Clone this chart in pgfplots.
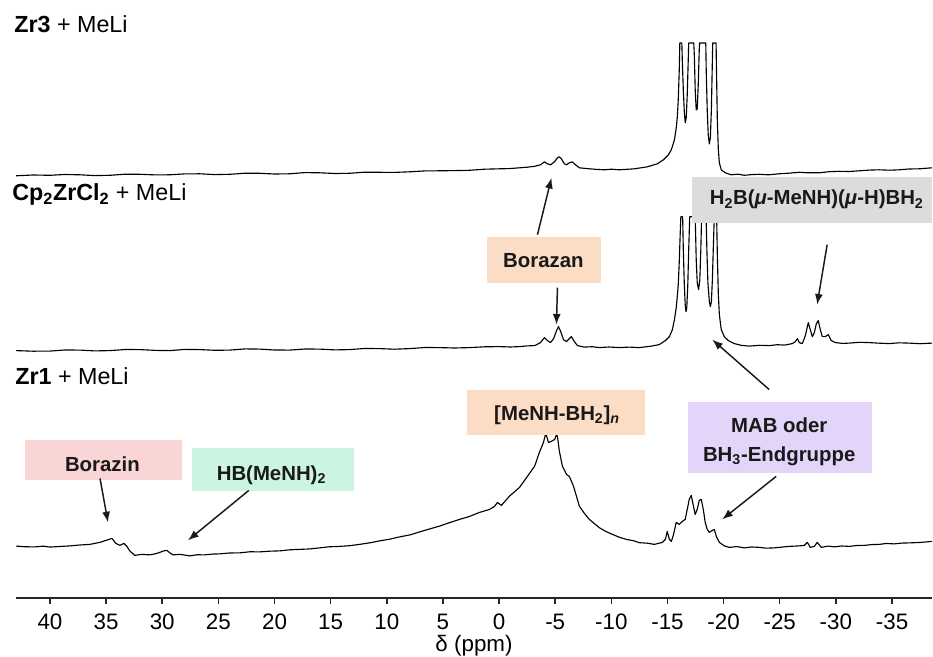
\documentclass[border=0pt]{standalone}
\usepackage{fontspec}
\setmainfont{Liberation Sans}
\usepackage{pgfplots}
\pgfplotsset{compat=1.18}
\usetikzlibrary{arrows.meta}
\definecolor{peach}{HTML}{FBDCC5}
\definecolor{gbox}{HTML}{DCDCDC}
\definecolor{lav}{HTML}{E3D5FA}
\definecolor{pinkb}{HTML}{F9D5D5}
\definecolor{mint}{HTML}{CBF5E0}
\begin{document}
\begin{tikzpicture}
\begin{axis}[
  scale only axis, width=687.75pt, height=449.25pt,
  x dir=reverse, xmin=-38.56, xmax=43.02, ymin=0, ymax=599,
  axis x line*=bottom, axis y line=none,
  axis line style={-, line width=1.5pt, black!85},
  xtick={40,35,30,25,20,15,10,5,0,-5,-10,-15,-20,-25,-30,-35},
  xticklabels={40,35,30,25,20,15,10,5,0,-5,-10,-15,-20,-25,-30,-35},
  tick align=outside, major tick length=4.5pt,
  xtick style={line width=1.1pt, black!85},
  xticklabel style={font=\fontsize{16.8}{18}\selectfont, anchor=base, yshift=-18.75pt, inner sep=0pt},
  xlabel={δ (ppm)},
  xlabel style={font=\fontsize{16.8}{18}\selectfont, at={(axis description cs:0.5,0)}, anchor=base, yshift=-39.75pt, inner sep=0pt},
  clip=false,
]
% Zr3 + MeLi
\addplot[black, line width=0.85pt, line join=round] coordinates {
(43.02,423) (41.5,423.8) (40.0,423.5) (38.7,424.3) (37.32,424) (36.0,423.2) (34.65,423.5) (33.3,424.6) (31.98,424.5) (30.6,423.9) (29.32,424) (28.0,424.9) (26.65,425) (25.3,424.2) (23.98,424.5) (22.6,425.6) (21.31,425.5) (20.0,424.8) (18.65,425) (17.3,426.2) (15.98,426) (14.6,425.3) (13.31,425.5) (12.0,426.6) (10.64,426.5) (9.3,426.4) (7.97,427) (6.6,427.9) (5.30,428) (4.0,428.2) (2.63,428.5) (1.3,429.6) (-0.04,430) (-0.9,430.2) (-1.82,431) (-2.5,431.6) (-3.16,432.5) (-3.69,434) (-4.04,437) (-4.31,435) (-4.58,434) (-4.94,437) (-5.20,441) (-5.37,442) (-5.55,440) (-5.82,435) (-6.00,434) (-6.26,436) (-6.53,437) (-6.81,434) (-7.15,431) (-8.04,430) (-8.7,429.4) (-9.39,429) (-10.0,429.6) (-10.71,429) (-11.4,429.5) (-12.05,430) (-13.21,432) (-14.09,435) (-14.64,439) (-15.08,444) (-15.34,449) (-15.62,459) (-15.78,471) (-15.87,481) (-15.96,499) (-16.05,529) (-16.10,556) (-16.28,556) (-16.32,539) (-16.41,509) (-16.50,487) (-16.58,476) (-16.67,481) (-16.76,504) (-16.85,539) (-16.89,556) (-17.34,556) (-17.39,544) (-17.47,509) (-17.56,489) (-17.65,490) (-17.74,514) (-17.83,549) (-17.86,556) (-18.41,556) (-18.45,529) (-18.54,489) (-18.63,464) (-18.73,455) (-18.82,461) (-18.91,489) (-19.00,539) (-19.03,556) (-19.33,556) (-19.35,539) (-19.44,479) (-19.53,449) (-19.62,436) (-19.79,429) (-20.15,426) (-20.68,424) (-21.3,424.6) (-21.84,423.5) (-22.5,424.2) (-23.17,424.5) (-24.0,424) (-24.95,425) (-25.8,425.6) (-26.73,426.5) (-27.6,426) (-28.51,426) (-29.4,427.1) (-30.29,427.5) (-31.2,427.3) (-32.08,428) (-33.0,428.7) (-33.86,429) (-34.8,428.6) (-35.64,429) (-36.5,429.8) (-37.42,430) (-38.56,431)
};
% Cp2ZrCl2 + MeLi
\addplot[black, line width=0.85pt, line join=round] coordinates {
(43.02,248) (41.5,247.4) (40.0,247.5) (38.7,248.6) (37.32,248.5) (36.0,247.7) (34.65,248) (33.3,249.1) (31.98,249) (30.6,248.2) (29.32,248) (28.0,249.2) (26.65,249) (25.3,248.3) (23.98,248.5) (22.6,249.7) (21.31,249.5) (20.0,248.6) (18.65,248.5) (17.3,249.6) (15.98,249.5) (14.6,248.7) (13.31,249) (12.0,250.1) (10.64,250) (9.3,249.4) (7.97,250) (6.6,251.1) (5.30,251) (4.0,250.6) (2.63,251) (1.3,251.8) (-0.04,252) (-1.0,251.6) (-1.82,252) (-2.5,252.7) (-3.17,253) (-3.69,256) (-4.04,261) (-4.31,258) (-4.58,256) (-4.86,260) (-5.12,268) (-5.29,272) (-5.46,268) (-5.74,259) (-6.00,257) (-6.26,260) (-6.44,262) (-6.71,257) (-6.98,253) (-7.60,251.5) (-8.3,251.9) (-8.93,251) (-9.8,251.6) (-10.71,251) (-11.6,251.5) (-12.49,251) (-13.57,252.5) (-14.27,254) (-14.81,258) (-15.17,262) (-15.44,269) (-15.62,279) (-15.78,291) (-15.87,302) (-15.96,314) (-16.05,337) (-16.14,367) (-16.19,382) (-16.35,382) (-16.41,349) (-16.50,314) (-16.58,294) (-16.65,287) (-16.72,291) (-16.81,314) (-16.89,349) (-16.98,382) (-17.47,382) (-17.56,339) (-17.65,316) (-17.77,309) (-17.88,319) (-17.97,349) (-18.04,382) (-18.44,382) (-18.51,349) (-18.60,316) (-18.73,297) (-18.82,292) (-18.91,297) (-19.00,319) (-19.09,354) (-19.17,382) (-19.38,382) (-19.44,344) (-19.53,304) (-19.62,284) (-19.79,269) (-20.06,262) (-20.42,258) (-20.96,255) (-21.6,253.2) (-22.30,252.5) (-23.2,253.3) (-24.08,253) (-24.8,253.9) (-25.41,253.5) (-26.12,255) (-26.39,257) (-26.57,260) (-26.74,256) (-27.01,255) (-27.28,263) (-27.54,276) (-27.72,269) (-27.90,262) (-28.08,266) (-28.26,275) (-28.43,278) (-28.61,269) (-28.79,262) (-29.06,262) (-29.32,264) (-29.59,258) (-29.95,256) (-30.6,255.2) (-31.19,255.5) (-32.1,256.3) (-32.97,256) (-33.9,255.4) (-34.75,255) (-35.6,255.8) (-36.53,255.5) (-37.5,254.9) (-38.56,255.5)
};
% Zr1 + MeLi
\addplot[black, line width=0.85pt, line join=round] coordinates {
(43.02,52.3) (42.2,51.6) (41.31,51.5) (40.6,52.2) (40.00,51.3) (39.1,51.9) (38.22,52.5) (37.3,53.4) (36.44,54) (35.55,56) (34.93,58.3) (34.48,60) (34.13,55) (33.77,53) (33.41,55) (33.15,52) (32.88,47.3) (32.44,43) (31.81,44) (31.10,43.5) (30.6,44.6) (30.21,46) (29.86,47.5) (29.59,48) (29.32,45.5) (29.06,43.5) (28.43,44) (27.9,43.1) (27.54,42.5) (26.9,43.6) (26.21,43.5) (25.5,44.3) (24.88,44.5) (24.0,45.4) (23.10,45.5) (22.2,46.6) (21.31,46.5) (20.4,47.2) (19.54,47.5) (18.6,48.6) (17.76,49) (16.9,49.4) (15.98,50.5) (15.1,51.6) (14.20,52) (13.3,52.7) (12.42,54) (11.5,55.6) (10.64,57.5) (9.7,59.3) (8.86,61.5) (7.9,63.6) (7.08,66.5) (6.2,69.4) (5.30,72.3) (4.4,75.8) (3.52,79) (2.63,82) (1.74,86) (0.85,89) (0.41,92) (0.14,96) (-0.21,93) (-0.93,102.3) (-1.82,111) (-2.54,122.3) (-3.17,132.3) (-3.59,146) (-3.95,156) (-4.13,164) (-4.22,163) (-4.40,156) (-4.68,157.3) (-4.95,159) (-5.12,164) (-5.20,162) (-5.37,147.3) (-5.64,132.3) (-6.01,124) (-6.26,122) (-6.63,112.3) (-7.15,92.3) (-7.6,85) (-8.04,79) (-8.93,70.7) (-9.5,67) (-10.10,64) (-10.7,61.2) (-11.34,59) (-12.0,57.6) (-12.49,55.7) (-13.2,55.2) (-13.83,54) (-14.55,56) (-14.81,59) (-14.98,67) (-15.17,59) (-15.34,57) (-15.52,63) (-15.78,76) (-16.05,74) (-16.32,77) (-16.58,79) (-16.76,89) (-16.94,99) (-17.12,103) (-17.30,93) (-17.47,84) (-17.65,89) (-17.83,98) (-18.01,99) (-18.19,89) (-18.36,76) (-18.54,69) (-18.73,66) (-19.00,68) (-19.17,69) (-19.35,62) (-19.62,56) (-20.06,52.5) (-20.51,51) (-21.2,51.8) (-21.84,50.5) (-22.5,51.4) (-23.17,51) (-23.8,50.2) (-24.51,50.5) (-25.2,51.3) (-25.84,52) (-26.74,52.5) (-27.19,53) (-27.46,56) (-27.72,51) (-28.08,52) (-28.34,56) (-28.70,51) (-29.3,52.3) (-29.86,51.5) (-30.5,52.4) (-31.19,52) (-31.9,52.9) (-32.53,53) (-33.2,53.8) (-33.86,54) (-34.5,54.9) (-35.19,54.5) (-35.9,55.3) (-36.53,55.5) (-37.5,55.9) (-38.56,57)
};
% bounding area
\path (axis cs:44.45,599) rectangle (axis cs:-38.56,-58);
% sample labels
\node[anchor=base west, inner sep=0pt, font=\fontsize{17.5}{20}\selectfont] at (axis cs:43.2,566.7) {\textbf{Zr3} + MeLi};
\node[anchor=base west, inner sep=0pt, font=\fontsize{17.5}{20}\selectfont] at (axis cs:43.38,398) {\textbf{Cp\textsubscript{2}ZrCl\textsubscript{2}} + MeLi};
\node[anchor=base west, inner sep=0pt, font=\fontsize{17.5}{20}\selectfont] at (axis cs:43.11,214) {\textbf{Zr1} + MeLi};
% boxes
\fill[peach] (axis cs:1.03,362) rectangle (axis cs:-9.11,316);
\fill[gbox] (axis cs:-17.22,422) rectangle (axis cs:-38.56,376);
\fill[peach] (axis cs:2.90,209) rectangle (axis cs:-13.03,164);
\fill[lav] (axis cs:-16.86,197) rectangle (axis cs:-33.23,125);
\fill[pinkb] (axis cs:42.22,158) rectangle (axis cs:28.25,118);
\fill[mint] (axis cs:27.36,150) rectangle (axis cs:12.95,107);
\tikzset{lbl/.style={anchor=base, inner sep=0pt, font=\fontsize{15.3}{18}\selectfont\bfseries, text=black!90}}
\node[lbl] at (axis cs:-3.95,331) {Borazan};
\node[lbl] at (axis cs:-28.29,394) {H\textsubscript{2}B(\textit{μ}-MeNH)(\textit{μ}-H)BH\textsubscript{2}};
\node[lbl] at (axis cs:-5.16,178.3) {[MeNH-BH\textsubscript{2}]\textsubscript{\textit{n}}};
\node[lbl] at (axis cs:-24.95,166) {MAB oder};
\node[lbl] at (axis cs:-24.95,137) {BH\textsubscript{3}-Endgruppe};
\node[lbl] at (axis cs:35.33,127.3) {Borazin};
\node[lbl] at (axis cs:20.27,118) {HB(MeNH)\textsubscript{2}};
% arrows
\tikzset{arr/.style={-{Latex[length=8pt,width=6pt]}, line width=1.1pt, black!90}}
\draw[arr] (axis cs:35.54,120) -- (axis cs:34.83,76);
\draw[arr] (axis cs:22.29,108) -- (axis cs:27.71,58);
\draw[arr] (axis cs:-3.42,364) -- (axis cs:-4.67,421);
\draw[arr] (axis cs:-5.20,311) -- (axis cs:-5.11,274);
\draw[arr] (axis cs:-29.22,354) -- (axis cs:-28.33,294);
\draw[arr] (axis cs:-24.06,209) -- (axis cs:-18.99,259);
\draw[arr] (axis cs:-24.68,122) -- (axis cs:-19.87,79);
\end{axis}
\end{tikzpicture}
\end{document}
